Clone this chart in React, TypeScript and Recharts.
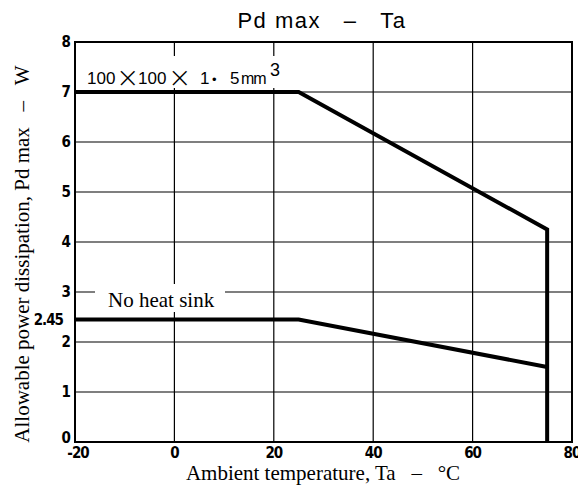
import React from 'react';
import { LineChart, Line, XAxis, YAxis, CartesianGrid, ReferenceArea } from 'recharts';

// Heat sink 100x100x1.5 mm^3 derating curve
const heatSinkTemp = [-20, 25, 75, 75];
const heatSinkPower = [7, 7, 4.25, 0];
// No heat sink derating curve
const bareTemp = [-20, 25, 75];
const barePower = [2.45, 2.45, 1.5];

const xTicks = [-20, 0, 20, 40, 60, 80];
const yTicks = [0, 1, 2, 2.45, 3, 4, 5, 6, 7, 8];
const yGridValues = [0, 1, 2, 3, 4, 5, 6, 7, 8];

const heatSinkData = heatSinkTemp.map((t, i) => ({ t, p: heatSinkPower[i] }));
const bareData = bareTemp.map((t, i) => ({ t, p: barePower[i] }));

const tickFont: React.CSSProperties = {
  fontFamily: '"DejaVu Sans Condensed", "DejaVu Sans", sans-serif',
  fontWeight: 700,
  fontSize: 15,
  letterSpacing: -1,
};

const YTick = (props: any) => {
  const { x, y, payload } = props;
  const special = payload.value === 2.45;
  const zero = payload.value === 0;
  return (
    <text x={x - (special ? 7 : 0)} y={y - (zero ? 4 : 0)} dy="0.36em" textAnchor="end" fill="#000" style={tickFont}>
      {String(payload.value)}
    </text>
  );
};

const XTick = (props: any) => {
  const { x, y, payload } = props;
  const first = payload.value === -20;
  return (
    <text x={x + (first ? 3 : 0)} y={y - 1} dy="0.71em" textAnchor="middle" fill="#000" style={tickFont}>
      {String(payload.value)}
    </text>
  );
};

const serif = '"Liberation Serif", "Times New Roman", serif';
const sans = '"Liberation Sans", Arial, sans-serif';
const thin = '"DejaVu Sans", sans-serif';

export default function App() {
  return (
    <div style={{ position: 'absolute', left: 0, top: 0, width: 578, height: 490, background: '#fff' }}>
      <LineChart
        width={578}
        height={490}
        margin={{ top: 42, right: 6, bottom: 0, left: 0 }}
      >
        <CartesianGrid
          stroke="#000"
          strokeWidth={1.2}
          verticalValues={xTicks}
          horizontalValues={yGridValues}
        />
        <XAxis
          type="number"
          dataKey="t"
          domain={[-20, 80]}
          ticks={xTicks}
          height={48}
          axisLine={false}
          tickLine={false}
          tickSize={0}
          tickMargin={6}
          tick={<XTick />}
          interval={0}
        />
        <YAxis
          type="number"
          dataKey="p"
          domain={[0, 8]}
          ticks={yTicks}
          width={75}
          axisLine={false}
          tickLine={false}
          tickSize={0}
          tickMargin={5}
          tick={<YTick />}
          interval={0}
        />
        <ReferenceArea x1={-20} x2={80} y1={0} y2={8} fill="none" fillOpacity={0} stroke="#000" strokeWidth={2} strokeOpacity={1} />
        <rect x={82} y={56} width={208} height={32} fill="#fff" />
        <rect x={95} y={284} width={130} height={28} fill="#fff" />
        <Line data={heatSinkData} dataKey="p" type="linear" stroke="#000" strokeWidth={4} dot={false} isAnimationActive={false} strokeLinejoin="miter" />
        <Line data={bareData} dataKey="p" type="linear" stroke="#000" strokeWidth={4} dot={false} isAnimationActive={false} strokeLinejoin="miter" />
        <text x={322} y={28} textAnchor="middle" fontFamily={sans} fontSize={22} letterSpacing={1.5} fill="#000">
          {'Pd max\u00a0\u00a0\u00a0–\u00a0\u00a0\u00a0Ta'}
        </text>
        <text y={84} fontFamily={sans} fontSize={17} fill="#000">
          <tspan x={87}>100</tspan>
          <tspan x={116} fontFamily={thin} fontSize={28} fontWeight={200} dy={3}>×</tspan>
          <tspan x={138} dy={-3}>100</tspan>
          <tspan x={168} fontFamily={thin} fontSize={28} fontWeight={200} dy={3}>×</tspan>
          <tspan x={200} dy={-3}>1</tspan>
          <tspan x={212} fontSize={13}>•</tspan>
          <tspan x={230}>5</tspan>
          <tspan x={241} fontSize={16} letterSpacing={-1}>mm</tspan>
          <tspan x={270} fontSize={18} dy={-8}>3</tspan>
        </text>
        <text x={108} y={307} fontFamily={serif} fontSize={21} fill="#000">No heat sink</text>
        <text x={323} y={480} textAnchor="middle" fontFamily={serif} fontSize={21} fill="#000">
          {'Ambient temperature, Ta\u00a0\u00a0\u00a0–\u00a0\u00a0\u00a0°C'}
        </text>
        <text
          x={22}
          y={254}
          transform="rotate(-90 22 254)"
          textAnchor="middle"
          dominantBaseline="central"
          fontFamily={serif}
          fontSize={21}
          fill="#000"
        >
          {'Allowable power dissipation, Pd max\u00a0\u00a0\u00a0–\u00a0\u00a0\u00a0W'}
        </text>
      </LineChart>
    </div>
  );
}
